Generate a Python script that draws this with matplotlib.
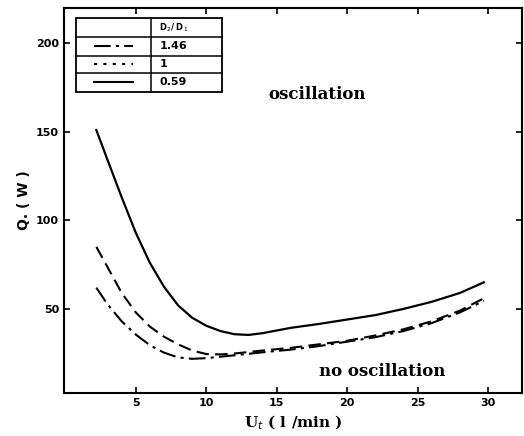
import matplotlib.pyplot as plt
from matplotlib.patches import Rectangle

# curva D2/D1 = 0.59 (continua)
x_059 = [2.2, 3, 4, 5, 6, 7, 8, 9, 10, 11, 12, 13, 14, 16, 18, 20, 22, 24, 26, 28, 29.7]
y_059 = [151, 134, 113, 93, 76, 62.5, 52, 45, 40.5, 37.5, 35.7, 35.3, 36.3, 39.3, 41.5, 44, 46.5, 50, 54, 59, 65]

# curva D2/D1 = 1 (tracejada)
x_1 = [2.2, 3, 4, 5, 6, 7, 8, 9, 10, 11, 12, 14, 16, 18, 20, 22, 24, 26, 28, 29.7]
y_1 = [85, 73.5, 59, 48, 40, 34.3, 30, 26.5, 24.5, 24.3, 24.8, 26.5, 28, 30, 32, 35, 38.5, 43, 49, 56]

# curva D2/D1 = 1.46 (traco-ponto)
x_146 = [2.2, 3, 4, 5, 6, 7, 8, 9, 10, 11, 12, 14, 16, 18, 20, 22, 24, 26, 28, 29.7]
y_146 = [62, 52.5, 43, 35.5, 29.5, 25.3, 22.6, 21.8, 22.2, 23, 23.8, 25.5, 27, 29, 31.5, 34, 37.5, 42, 48, 54.5]

xticks = [5, 10, 15, 20, 25, 30]
yticks = [50, 100, 150, 200]
razoes = ['1.46', '1', '0.59']

fig = plt.figure(figsize=(5.24, 4.36), dpi=100)
ax = fig.add_axes([0.122, 0.099, 0.874, 0.883])

estilo_146 = (0, (8, 2.5, 1.5, 2.5))
estilo_1 = (0, (6, 3))
ax.plot(x_059, y_059, color='k', lw=1.6, solid_joinstyle='round')
ax.plot(x_1, y_1, color='k', lw=1.5, linestyle=estilo_1)
ax.plot(x_146, y_146, color='k', lw=1.5, linestyle=estilo_146)

ax.set_xlim(-0.1, 32.4)
ax.set_ylim(2.6, 220)
ax.set_xticks(xticks)
ax.set_yticks(yticks)
ax.tick_params(direction='in', length=4, width=1.2, top=True, right=True,
               labelsize=8)
for lab in ax.get_xticklabels() + ax.get_yticklabels():
    lab.set_fontweight('bold')
for s in ax.spines.values():
    s.set_linewidth(1.5)

ax.set_xlabel(r'U$_t$ ( l /min )', fontsize=11, fontweight='bold', family='DejaVu Serif')
ax.set_ylabel('Q. ( W )', fontsize=10, fontweight='bold')

ax.text(17.9, 171, 'oscillation', fontsize=12, fontweight='bold', family='DejaVu Serif',
        ha='center', va='center')
ax.text(22.5, 14.5, 'no oscillation', fontsize=12, fontweight='bold', family='DejaVu Serif',
        ha='center', va='center')

# tabela da legenda
x0, x1, xd = 0.74, 11.1, 6.07
linhas_y = [214.4, 203.6, 192.9, 183.3, 172.5]
ax.add_patch(Rectangle((x0, linhas_y[-1]), x1 - x0, linhas_y[0] - linhas_y[-1],
                       fill=False, lw=1.3, color='k'))
ax.plot([xd, xd], [linhas_y[-1], linhas_y[0]], color='k', lw=1.1)
for yl in linhas_y[1:-1]:
    ax.plot([x0, x1], [yl, yl], color='k', lw=1.1)
ax.text(xd + 0.6, (linhas_y[0] + linhas_y[1]) / 2, r'D$_2$/ D$_1$', fontsize=6,
        fontweight='bold', va='center')
estilos = [estilo_146, (0, (1.5, 3)), '-']
for i, (r, ls) in enumerate(zip(razoes, estilos)):
    yc = (linhas_y[i + 1] + linhas_y[i + 2]) / 2
    ax.plot([2.0, 4.8], [yc, yc], color='k', lw=1.5, linestyle=ls)
    ax.text(xd + 0.6, yc, r, fontsize=8, fontweight='bold', va='center')

fig.savefig('out.png', dpi=100)
